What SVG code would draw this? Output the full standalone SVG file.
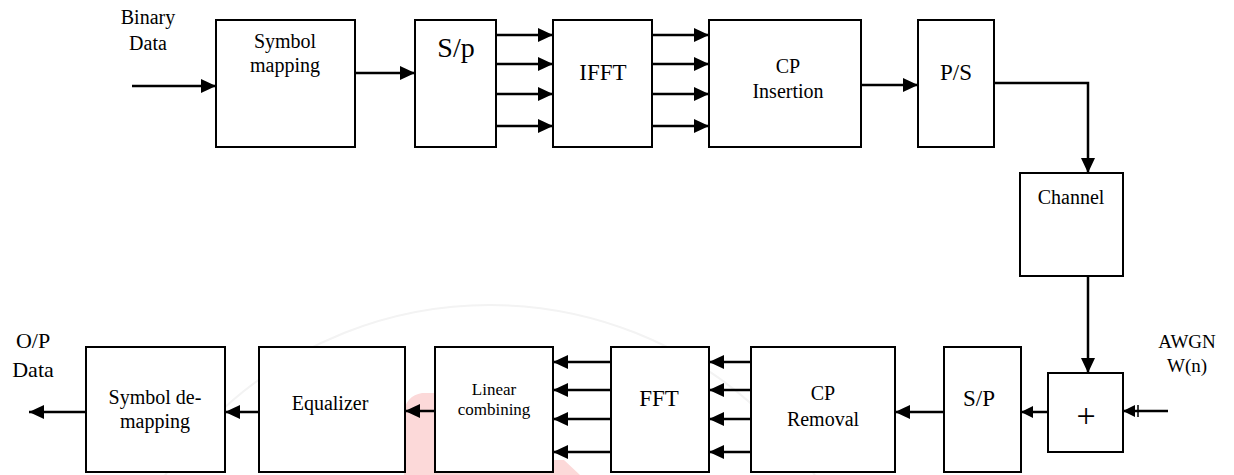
<svg xmlns="http://www.w3.org/2000/svg" width="1234" height="475" viewBox="0 0 1234 475">
<style>
  .box { fill: #fff; stroke: #000; stroke-width: 2; }
  text { font-family: "Liberation Serif", "Times New Roman", serif; font-size: 20px; fill: #000; text-anchor: middle; }
  .big { font-size: 23px; }
  .sm { font-size: 17px; }
  .c { fill: none; stroke: #000; stroke-width: 2.5; }
</style>
<defs>
  <marker id="ah" markerUnits="userSpaceOnUse" markerWidth="15" markerHeight="14" refX="15" refY="7" orient="auto">
    <path d="M0,0 L15,7 L0,14 Z" fill="#000"/>
  </marker>
  <marker id="ahs" markerUnits="userSpaceOnUse" markerWidth="12" markerHeight="12" refX="12" refY="6" orient="auto">
    <path d="M0,0 L12,6 L0,12 Z" fill="#000"/>
  </marker>
</defs>
<rect width="1234" height="475" fill="#fff"/>

<g id="watermark">
  <circle cx="490" cy="700" r="395" fill="none" stroke="#f3f3f3" stroke-width="2"/>
  <path d="M404,412 Q406,396 422,393 L553,393 L553,460 L564,460 L580,475 L404,475 Z" fill="#fcd9d9"/>
</g>

<g id="label-binary">
  <text x="148" y="24">Binary</text>
  <text x="148" y="50">Data</text>
</g>
<g id="symbol-mapping">
  <rect class="box" x="216" y="20" width="139" height="127"/>
  <text x="285" y="48">Symbol</text>
  <text x="285" y="72">mapping</text>
</g>
<g id="sp-top">
  <rect class="box" x="415" y="20" width="81" height="127"/>
  <text x="456" y="57" style="font-size:28px">S/p</text>
</g>
<g id="ifft">
  <rect class="box" x="553" y="20" width="99" height="127"/>
  <text class="big" x="603" y="80">IFFT</text>
</g>
<g id="cp-insertion">
  <rect class="box" x="709" y="20" width="152" height="127"/>
  <text x="788" y="73">CP</text>
  <text x="788" y="98">Insertion</text>
</g>
<g id="ps">
  <rect class="box" x="918" y="20" width="76" height="127"/>
  <text class="big" x="956" y="80">P/S</text>
</g>
<g id="channel">
  <rect class="box" x="1020" y="173" width="103" height="103"/>
  <text x="1071" y="204">Channel</text>
</g>
<g id="adder">
  <rect class="box" x="1048" y="373" width="75" height="79"/>
  <text x="1086" y="427" style="font-size:34px">+</text>
</g>
<g id="label-awgn">
  <text x="1187" y="348" style="font-size:19px">AWGN</text>
  <text x="1187" y="372" style="font-size:19px">W(n)</text>
</g>
<g id="sp-bottom">
  <rect class="box" x="944" y="347" width="77" height="125"/>
  <text class="big" x="979" y="406">S/P</text>
</g>
<g id="cp-removal">
  <rect class="box" x="751" y="347" width="144" height="125"/>
  <text x="823" y="400">CP</text>
  <text x="823" y="426">Removal</text>
</g>
<g id="fft">
  <rect class="box" x="611" y="347" width="98" height="125"/>
  <text class="big" x="659" y="406">FFT</text>
</g>
<g id="linear-combining">
  <rect class="box" x="435" y="347" width="118" height="125"/>
  <text class="sm" x="494" y="395">Linear</text>
  <text class="sm" x="494" y="415">combining</text>
</g>
<g id="equalizer">
  <rect class="box" x="259" y="347" width="146" height="125"/>
  <text x="330" y="410">Equalizer</text>
</g>
<g id="symbol-demapping">
  <rect class="box" x="86" y="347" width="139" height="125"/>
  <text x="155" y="404">Symbol de-</text>
  <text x="155" y="428">mapping</text>
</g>
<g id="label-op">
  <text x="33" y="348" style="font-size:22px">O/P</text>
  <text x="33" y="377" style="font-size:22px">Data</text>
</g>

<g id="connectors">
  <line class="c" x1="132" y1="86" x2="216" y2="86" marker-end="url(#ah)"/>
  <line class="c" x1="355" y1="73" x2="415" y2="73" marker-end="url(#ah)"/>
  <line class="c" x1="496" y1="35" x2="553" y2="35" marker-end="url(#ah)"/>
  <line class="c" x1="496" y1="64" x2="553" y2="64" marker-end="url(#ah)"/>
  <line class="c" x1="496" y1="94" x2="553" y2="94" marker-end="url(#ah)"/>
  <line class="c" x1="496" y1="126" x2="553" y2="126" marker-end="url(#ah)"/>
  <line class="c" x1="652" y1="35" x2="709" y2="35" marker-end="url(#ah)"/>
  <line class="c" x1="652" y1="64" x2="709" y2="64" marker-end="url(#ah)"/>
  <line class="c" x1="652" y1="94" x2="709" y2="94" marker-end="url(#ah)"/>
  <line class="c" x1="652" y1="126" x2="709" y2="126" marker-end="url(#ah)"/>
  <line class="c" x1="861" y1="85" x2="918" y2="85" marker-end="url(#ah)"/>
  <path class="c" d="M994,83 H1088 V173" marker-end="url(#ah)"/>
  <line class="c" x1="1088" y1="276" x2="1088" y2="373" marker-end="url(#ah)"/>
  <line class="c" x1="1168" y1="411" x2="1123" y2="411" marker-end="url(#ahs)"/>
  <line x1="1138" y1="405" x2="1138" y2="417" stroke="#000" stroke-width="1.5"/>
  <line class="c" x1="1048" y1="412" x2="1021" y2="412" marker-end="url(#ahs)"/>
  <line class="c" x1="944" y1="412" x2="895" y2="412" marker-end="url(#ah)"/>
  <line class="c" x1="751" y1="362" x2="709" y2="362" marker-end="url(#ah)"/>
  <line class="c" x1="751" y1="390" x2="709" y2="390" marker-end="url(#ah)"/>
  <line class="c" x1="751" y1="419" x2="709" y2="419" marker-end="url(#ah)"/>
  <line class="c" x1="751" y1="452" x2="709" y2="452" marker-end="url(#ah)"/>
  <line class="c" x1="611" y1="362" x2="553" y2="362" marker-end="url(#ah)"/>
  <line class="c" x1="611" y1="390" x2="553" y2="390" marker-end="url(#ah)"/>
  <line class="c" x1="611" y1="419" x2="553" y2="419" marker-end="url(#ah)"/>
  <line class="c" x1="611" y1="452" x2="553" y2="452" marker-end="url(#ah)"/>
  <line class="c" x1="435" y1="411" x2="405" y2="411" marker-end="url(#ah)"/>
  <line class="c" x1="259" y1="412" x2="225" y2="412" marker-end="url(#ah)"/>
  <line class="c" x1="86" y1="412" x2="29" y2="412" marker-end="url(#ah)"/>
</g>
</svg>
